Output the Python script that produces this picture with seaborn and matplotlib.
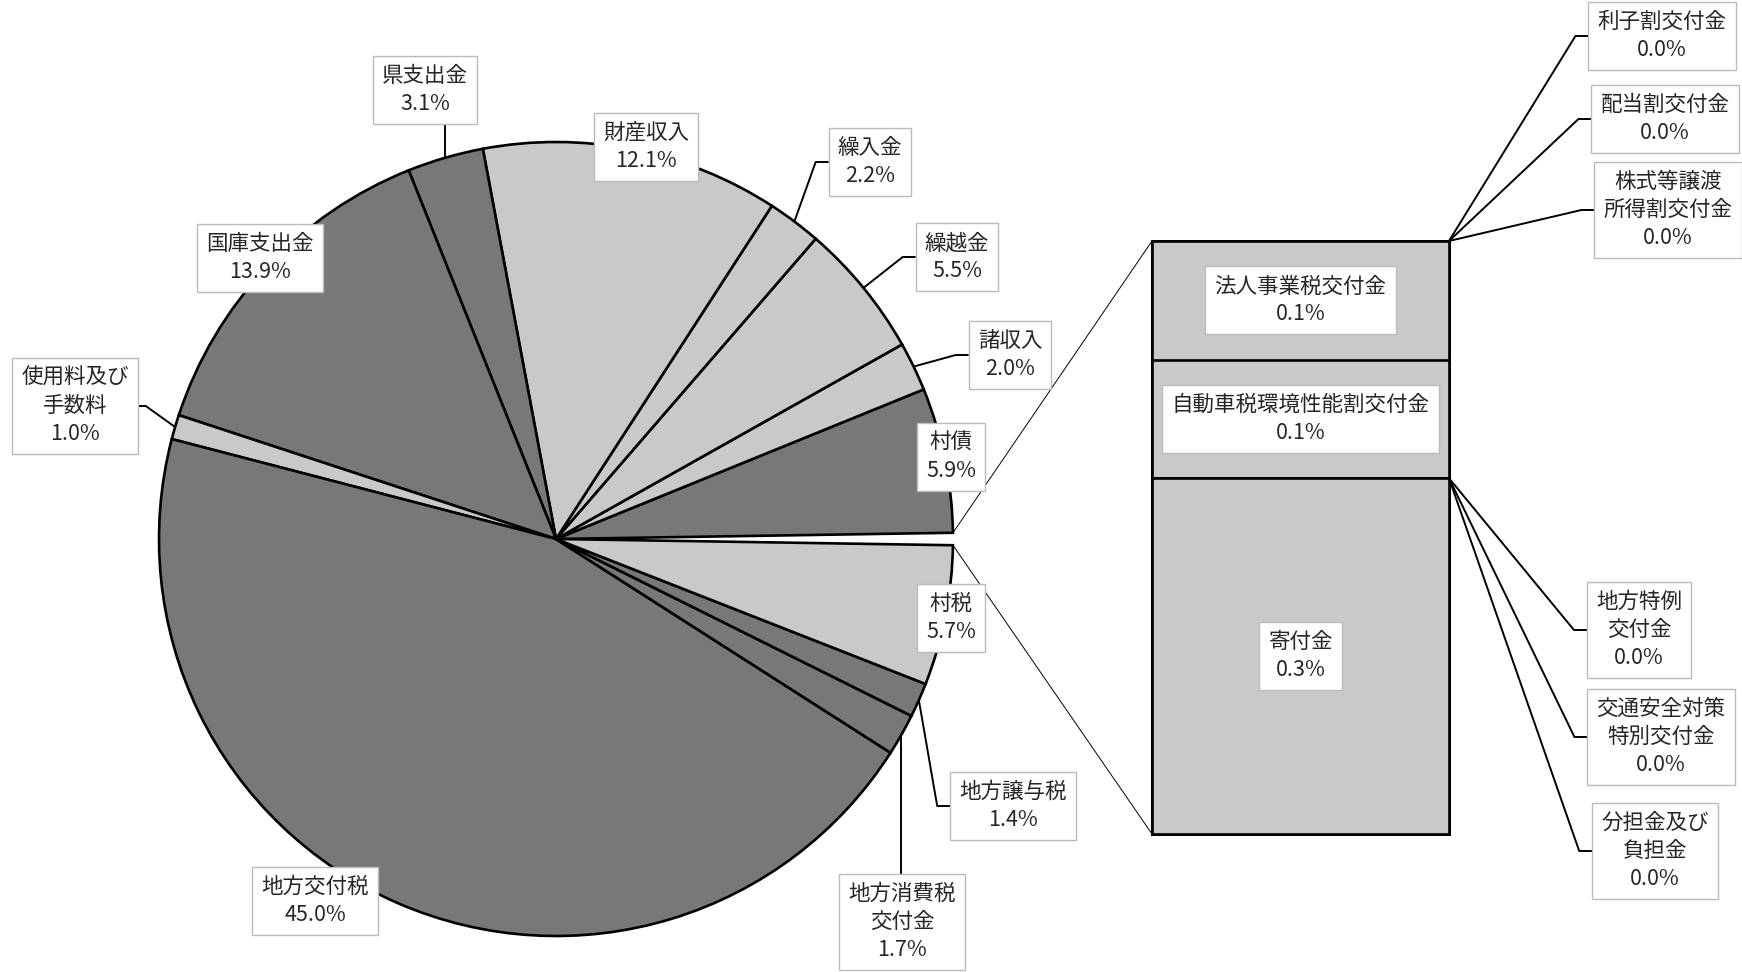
import numpy as np
import pandas as pd
import seaborn as sns
import matplotlib
matplotlib.use('Agg')
import matplotlib.pyplot as plt

# pie slices, counter-clockwise starting right after the "other" sliver at 3 o'clock
pie_labels = ['村債', '諸収入', '繰越金', '繰入金', '財産収入', '県支出金', '国庫支出金',
              '使用料及び\n手数料', '地方交付税', '地方消費税\n交付金', '地方譲与税', '村税']
pie_values = [5.9, 2.0, 5.5, 2.2, 12.1, 3.1, 13.9, 1.0, 45.0, 1.7, 1.4, 5.7]
pie_shade = ['dark', 'light', 'light', 'light', 'light', 'dark', 'dark',
             'light', 'dark', 'dark', 'dark', 'light']

# small items pulled out into the bar, top to bottom
bar_labels = ['利子割交付金', '配当割交付金', '株式等譲渡\n所得割交付金', '法人事業税交付金',
              '自動車税環境性能割交付金', '地方特例\n交付金', '交通安全対策\n特別交付金',
              '分担金及び\n負担金', '寄付金']
bar_values = [0.0, 0.0, 0.0, 0.1, 0.1, 0.0, 0.0, 0.0, 0.3]

LIGHT = '#C9C9C9'
DARK = '#787878'
W, H = 1742, 972

# label box centres in pixels (from top-left) and which side the leader leaves from
pie_label_pos = {
    '村債': (951, 457, None),
    '諸収入': (1010, 355, 'left'),
    '繰越金': (957, 257, 'left'),
    '繰入金': (870, 162, 'left'),
    '財産収入': (646, 147, None),
    '県支出金': (425, 90, 'bottom'),
    '国庫支出金': (260, 258, None),
    '使用料及び\n手数料': (75, 406, 'right'),
    '地方交付税': (315, 901, None),
    '地方消費税\n交付金': (902, 922, 'top'),
    '地方譲与税': (1013, 806, 'left'),
    '村税': (951, 618, None),
}
bar_label_pos = {
    '利子割交付金': (1662, 36),
    '配当割交付金': (1665, 119),
    '株式等譲渡\n所得割交付金': (1668, 210),
    '地方特例\n交付金': (1639, 630),
    '交通安全対策\n特別交付金': (1661, 737),
    '分担金及び\n負担金': (1655, 851),
}

sns.set_theme(style='white')
plt.rcParams['font.family'] = ['Noto Sans CJK JP', 'DejaVu Sans']

fig = plt.figure(figsize=(W / 100, H / 100), dpi=100)
fig.patch.set_facecolor('white')

# ---- pie ----
cx, cy, r = 556, 539, 397
ax_pie = fig.add_axes([(cx - r) / W, (H - cy - r) / H, 2 * r / W, 2 * r / H])
other = sum(bar_values)
values = [other] + pie_values
colors = ['white'] + [DARK if s == 'dark' else LIGHT for s in pie_shade]
wedges, _ = ax_pie.pie(values, colors=colors, startangle=-180 * other / 100,
                       counterclock=True,
                       wedgeprops=dict(edgecolor='black', linewidth=1.9))
wedges[0].set_linewidth(0)
for w in wedges:
    w.set_clip_on(False)
ax_pie.set_xlim(-1, 1)
ax_pie.set_ylim(-1, 1)
ax_pie.axis('off')

# ---- stacked bar (overlaid cumulative bars) ----
tops = [other - sum(bar_values[:i]) for i in range(len(bar_values))]
bar_df = pd.DataFrame({'x': ['その他'] * len(bar_values), 'top': tops, 'item': bar_labels})
ax_bar = fig.add_axes([1152 / W, (H - 834) / H, 297 / W, 593 / H])
sns.barplot(data=bar_df, x='x', y='top', hue='item', hue_order=bar_labels, dodge=False,
            palette=[LIGHT] * len(bar_labels), edgecolor='black', linewidth=1.9,
            width=1, legend=False, ax=ax_bar)
ax_bar.set_xlim(-0.5, 0.5)
ax_bar.set_ylim(0, other)
ax_bar.axis('off')
for p in ax_bar.patches:
    p.set_clip_on(False)

# ---- overlay in pixel coordinates for labels and leader lines ----
ov = fig.add_axes([0, 0, 1, 1])
ov.set_xlim(0, W)
ov.set_ylim(H, 0)
ov.axis('off')


def to_px(ax, x, y):
    return ov.transData.inverted().transform(ax.transData.transform((x, y)))


box = dict(boxstyle='square,pad=0.42', fc='white', ec='#BBBBBB', lw=1)
tkw = dict(ha='center', va='center', fontsize=15.5, linespacing=1.35, bbox=box, zorder=5)

texts = []
for lab, val, w in zip(pie_labels, pie_values, wedges[1:]):
    x, y, side = pie_label_pos[lab]
    t = ov.text(x, y, f'{lab}\n{val:.1f}%', **tkw)
    mid = np.deg2rad((w.theta1 + w.theta2) / 2)
    tip = to_px(ax_pie, np.cos(mid), np.sin(mid))
    texts.append((t, tip, side))

for lab, val, top in zip(bar_labels, bar_values, tops):
    if lab in bar_label_pos:
        x, y = bar_label_pos[lab]
        t = ov.text(x, y, f'{lab}\n{val:.1f}%', **tkw)
        texts.append((t, to_px(ax_bar, 0.5, top), 'left'))
    else:
        x, y = to_px(ax_bar, 0, top - val / 2)
        ov.text(x, y, f'{lab}\n{val:.1f}%', **tkw)

fig.canvas.draw()
inv = ov.transData.inverted()
for t, tip, side in texts:
    if side is None:
        continue
    ext = t.get_bbox_patch().get_window_extent()
    (x0, y1), (x1, y0) = inv.transform([[ext.x0, ext.y0], [ext.x1, ext.y1]])
    ym = (y0 + y1) / 2
    if side == 'left':
        xs, ys = [tip[0], x0 - 13, x0], [tip[1], ym, ym]
    elif side == 'right':
        xs, ys = [tip[0], x1 + 8, x1], [tip[1], ym, ym]
    elif side == 'bottom':
        xs, ys = [tip[0], tip[0]], [tip[1], y1]
    else:
        xs, ys = [tip[0], tip[0]], [tip[1], y0]
    ov.plot(xs, ys, color='black', lw=1.4, zorder=4, solid_capstyle='butt')

# thin connectors from the "other" sliver to the bar
w0 = wedges[0]
for ang, yb in [(w0.theta2, other), (w0.theta1, 0)]:
    a = np.deg2rad(ang)
    p1 = to_px(ax_pie, np.cos(a), np.sin(a))
    p2 = to_px(ax_bar, -0.5, yb)
    ov.plot([p1[0], p2[0]], [p1[1], p2[1]], color='black', lw=0.7, zorder=3)

fig.savefig('out.png', dpi=100, facecolor='white')
